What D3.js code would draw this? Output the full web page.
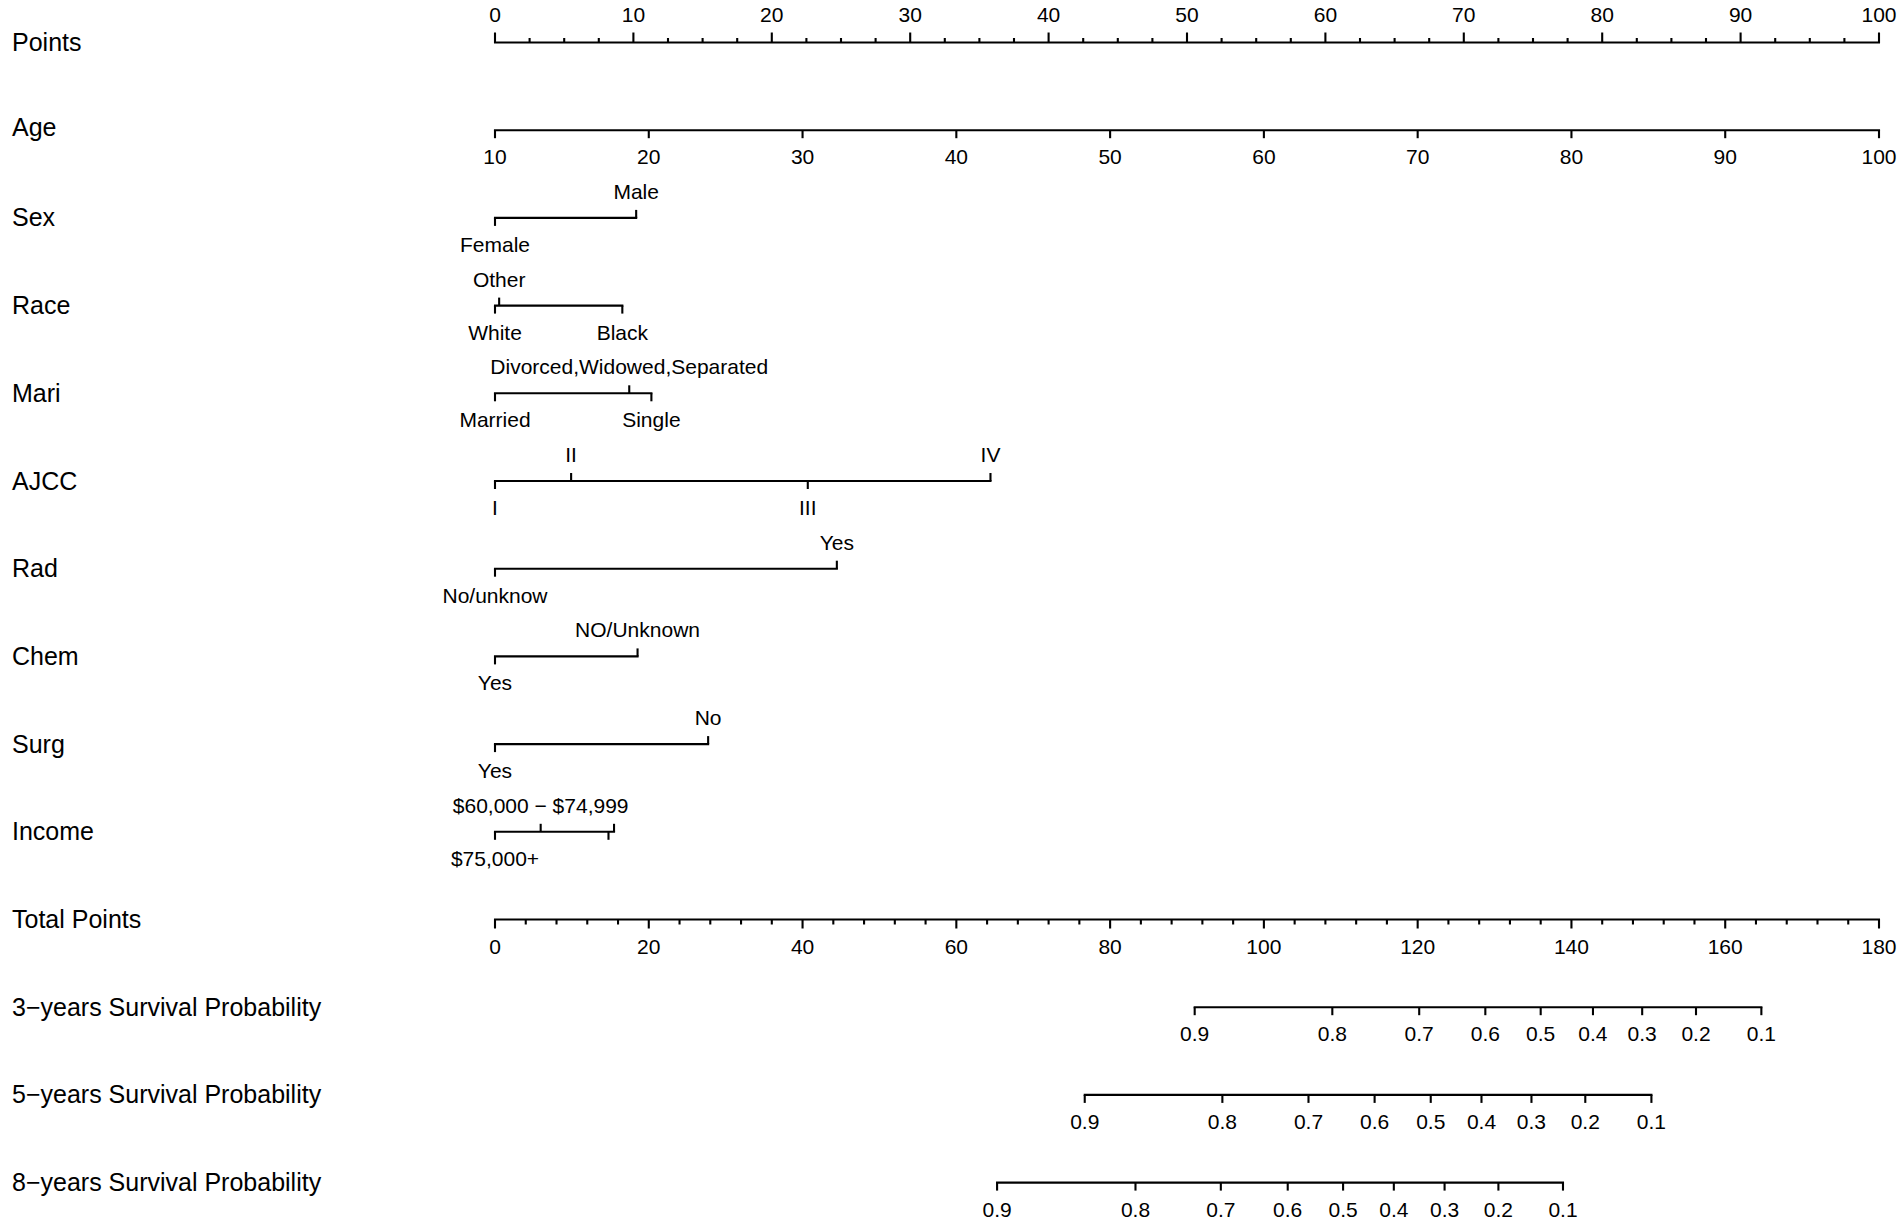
<!DOCTYPE html>
<html>
<head>
<meta charset="utf-8">
<script src="https://cdn.jsdelivr.net/npm/d3@7"></script>
<style>
  html, body { margin: 0; padding: 0; background: #fff; }
  svg { display: block; }
  text { font-family: "Liberation Sans", Arial, Helvetica, sans-serif; fill: #000; }
</style>
</head>
<body>
<script>
// ---------------- data ----------------
const rowNames = ["Points", "Age", "Sex", "Race", "Mari", "AJCC", "Rad", "Chem", "Surg", "Income",
  "Total Points", "3\u2212years Survival Probability", "5\u2212years Survival Probability", "8\u2212years Survival Probability"];

const pointsTicks = [0, 10, 20, 30, 40, 50, 60, 70, 80, 90, 100];
const pointsMinorStep = 2.5;

const ageTicks = [10, 20, 30, 40, 50, 60, 70, 80, 90, 100];
const ageDomain = [10, 100];      // age value range
const agePointsRange = [0, 100];  // points for that range

const sexLevels = ["Female", "Male"];
const sexPoints = [0, 10.2];

const raceLevels = ["White", "Other", "Black"];
const racePoints = [0, 0.3, 9.2];

const mariLevels = ["Married", "Divorced,Widowed,Separated", "Single"];
const mariPoints = [0, 9.7, 11.3];

const ajccLevels = ["I", "II", "III", "IV"];
const ajccPoints = [0, 5.5, 22.6, 35.8];

const radLevels = ["No/unknow", "Yes"];
const radPoints = [0, 24.7];

const chemLevels = ["Yes", "NO/Unknown"];
const chemPoints = [0, 10.3];

const surgLevels = ["Yes", "No"];
const surgPoints = [0, 15.4];

const incomeLevels = ["$75,000+", "$60,000 \u2212 $74,999", "", ""];
const incomePoints = [0, 3.3, 8.2, 8.6];

const totalTicks = [0, 20, 40, 60, 80, 100, 120, 140, 160, 180];
const totalMinorStep = 4;

const survProbs = ["0.9", "0.8", "0.7", "0.6", "0.5", "0.4", "0.3", "0.2", "0.1"];
const surv3Total = [91.0, 108.9, 120.2, 128.8, 136.0, 142.8, 149.2, 156.2, 164.7];
const surv5Total = [76.7, 94.6, 105.8, 114.4, 121.7, 128.3, 134.8, 141.8, 150.4];
const surv8Total = [65.3, 83.3, 94.4, 103.1, 110.3, 116.9, 123.5, 130.5, 138.9];

// ---------------- layout ----------------
const W = 1902, H = 1226;
const svg = d3.select("body").append("svg").attr("width", W).attr("height", H);

const y = d3.scalePoint().domain(rowNames).range([42.5, 1182.6]);
const xPts = d3.scaleLinear().domain([0, 100]).range([495, 1879]);
const xTot = d3.scaleLinear().domain([0, 180]).range([495, 1879]);
const agePts = d3.scaleLinear().domain(ageDomain).range(agePointsRange);

const SW = 2.1;
const tickFont = 21;
const varFont = 25;
const majorLen = 8, minorLen = 4.5;
const belowDy = 34, aboveDy = -19;

// variable labels
svg.append("g").selectAll("text").data(rowNames).join("text")
  .attr("x", 12).attr("y", (d, i) => y(d) + (i === 1 ? 6 : 8.5))
  .attr("font-size", varFont)
  .text(d => d);

function hline(g, x1, x2, yy) {
  g.append("line").attr("x1", x1).attr("x2", x2).attr("y1", yy).attr("y2", yy)
    .attr("stroke", "#000").attr("stroke-width", SW).attr("stroke-linecap", "square");
}
function tick(g, x, yy, len) {
  g.append("line").attr("x1", x).attr("x2", x).attr("y1", yy).attr("y2", yy + len)
    .attr("stroke", "#000").attr("stroke-width", SW);
}
function label(g, x, yy, txt) {
  g.append("text").attr("x", x).attr("y", yy).attr("text-anchor", "middle")
    .attr("font-size", tickFont).text(txt);
}

// Points axis (ticks up, labels above)
{
  const g = svg.append("g");
  const yy = y("Points");
  hline(g, xPts(0), xPts(100), yy);
  d3.range(0, 100 + 1e-9, pointsMinorStep).forEach(v => {
    const major = pointsTicks.includes(v);
    tick(g, xPts(v), yy, major ? -majorLen - 2 : -minorLen);
  });
  pointsTicks.forEach(v => label(g, xPts(v), yy + aboveDy - 2, v));
}

// Age axis (ticks down, labels below)
{
  const g = svg.append("g");
  const yy = y("Age");
  hline(g, xPts(agePts(ageDomain[0])), xPts(agePts(ageDomain[1])), yy);
  ageTicks.forEach(v => {
    tick(g, xPts(agePts(v)), yy, majorLen);
    label(g, xPts(agePts(v)), yy + belowDy, v);
  });
}

// categorical axes
function catAxis(row, levels, pts) {
  const g = svg.append("g");
  const yy = y(row);
  const order = d3.range(levels.length).sort((a, b) => pts[a] - pts[b]);
  hline(g, xPts(d3.min(pts)), xPts(d3.max(pts)), yy);
  order.forEach((idx, k) => {
    const above = k % 2 === 1;
    const xx = xPts(pts[idx]);
    tick(g, xx, yy, above ? -majorLen : majorLen);
    if (levels[idx]) label(g, xx, yy + (above ? aboveDy : belowDy), levels[idx]);
  });
}
catAxis("Sex", sexLevels, sexPoints);
catAxis("Race", raceLevels, racePoints);
catAxis("Mari", mariLevels, mariPoints);
catAxis("AJCC", ajccLevels, ajccPoints);
catAxis("Rad", radLevels, radPoints);
catAxis("Chem", chemLevels, chemPoints);
catAxis("Surg", surgLevels, surgPoints);
catAxis("Income", incomeLevels, incomePoints);

// Total points axis
{
  const g = svg.append("g");
  const yy = y("Total Points");
  hline(g, xTot(0), xTot(180), yy);
  d3.range(0, 180 + 1e-9, totalMinorStep).forEach(v => {
    const major = totalTicks.includes(v);
    tick(g, xTot(v), yy, major ? majorLen + 1 : 5);
  });
  totalTicks.forEach(v => label(g, xTot(v), yy + belowDy, v));
}

// Survival axes
function survAxis(row, tots) {
  const g = svg.append("g");
  const yy = y(row);
  hline(g, xTot(d3.min(tots)), xTot(d3.max(tots)), yy);
  tots.forEach((t, i) => {
    tick(g, xTot(t), yy, majorLen);
    label(g, xTot(t), yy + belowDy, survProbs[i]);
  });
}
survAxis(rowNames[11], surv3Total);
survAxis(rowNames[12], surv5Total);
survAxis(rowNames[13], surv8Total);
</script>
</body>
</html>
